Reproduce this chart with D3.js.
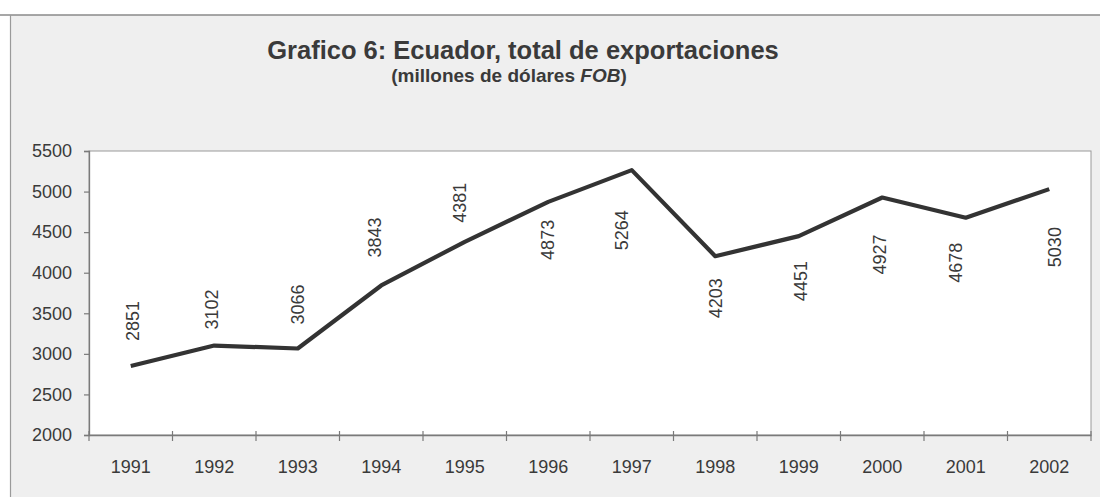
<!DOCTYPE html>
<html>
<head>
<meta charset="utf-8">
<script src="https://cdn.jsdelivr.net/npm/d3@7/dist/d3.min.js"></script>
<style>
  html, body { margin: 0; padding: 0; background: #ffffff; }
  svg { display: block; }
  text { font-family: "Liberation Sans", Arial, sans-serif; }
</style>
</head>
<body>
<svg id="chart" width="1100" height="497"></svg>
<script>
// Ecuador: total exports, millions of US dollars FOB
const years = ["1991", "1992", "1993", "1994", "1995", "1996",
               "1997", "1998", "1999", "2000", "2001", "2002"];
const exportsFOB = [2851, 3102, 3066, 3843, 4381, 4873,
                    5264, 4203, 4451, 4927, 4678, 5030];
const yTicks = [2000, 2500, 3000, 3500, 4000, 4500, 5000, 5500];

const titleText = "Grafico 6: Ecuador, total de exportaciones";
const subtitleMain = "(millones de dólares ";
const subtitleItalic = "FOB";
const subtitleEnd = ")";

// Label placement (pixels, relative to each point)
const labelDy = [-45, -36, -44, -48, -39, 38, 60, 42, 45, 57, 45, 58];
const labelDx = [2, -2, 0, -6, -5, 0, -10, 1, 2, -2, -10, 6];

const W = 1100, H = 497;
const plot = { left: 89, right: 1091, top: 151, bottom: 435 };

const svg = d3.select("#chart");

// Chart area background and frame
svg.append("rect")
  .attr("x", 10).attr("y", 15)
  .attr("width", W - 10).attr("height", H - 15)
  .attr("fill", "#efefef");
svg.append("line")
  .attr("x1", 0).attr("x2", W).attr("y1", 15).attr("y2", 15)
  .attr("stroke", "#8a8a8a").attr("stroke-width", 1.5);
svg.append("line")
  .attr("x1", 10.5).attr("x2", 10.5).attr("y1", 15).attr("y2", H)
  .attr("stroke", "#9a9a9a").attr("stroke-width", 1.2);

// Titles
svg.append("text")
  .attr("x", 523).attr("y", 59)
  .attr("text-anchor", "middle")
  .attr("font-size", 25.5).attr("font-weight", "bold")
  .attr("fill", "#3a3a3a")
  .text(titleText);

const sub = svg.append("text")
  .attr("x", 509).attr("y", 82)
  .attr("text-anchor", "middle")
  .attr("font-size", 19).attr("font-weight", "bold")
  .attr("fill", "#3a3a3a");
sub.append("tspan").text(subtitleMain);
sub.append("tspan").attr("font-style", "italic").text(subtitleItalic);
sub.append("tspan").text(subtitleEnd);

// Plot area
svg.append("rect")
  .attr("x", plot.left).attr("y", plot.top)
  .attr("width", plot.right - plot.left).attr("height", plot.bottom - plot.top)
  .attr("fill", "#ffffff")
  .attr("stroke", "#9a9a9a").attr("stroke-width", 1);

// Scales
const x = d3.scaleBand().domain(years).range([plot.left, plot.right]).padding(0);
const y = d3.scaleLinear().domain([2000, 5500]).range([plot.bottom, plot.top]);
const cx = d => x(d) + x.bandwidth() / 2;

// Y axis
const yAxis = svg.append("g")
  .attr("transform", `translate(${plot.left},0)`)
  .call(d3.axisLeft(y).tickValues(yTicks).tickSize(5).tickPadding(12).tickFormat(d3.format("d")));
yAxis.select(".domain").attr("stroke", "#7a7a7a").attr("stroke-width", 1.3);
yAxis.selectAll(".tick line").attr("stroke", "#7a7a7a").attr("stroke-width", 1.2);
yAxis.selectAll(".tick text")
  .attr("font-size", 18).attr("fill", "#3a3a3a")
  .style("font-family", "'Liberation Sans', Arial, sans-serif");

// X axis: labels centred in each category, ticks on category boundaries
const xAxis = svg.append("g")
  .attr("transform", `translate(0,${plot.bottom})`)
  .call(d3.axisBottom(x).tickSize(0).tickPadding(0));
xAxis.select(".domain").attr("stroke", "#7a7a7a").attr("stroke-width", 1.3);
xAxis.selectAll(".tick text")
  .attr("y", 38).attr("dy", 0)
  .attr("font-size", 18).attr("fill", "#3a3a3a")
  .style("font-family", "'Liberation Sans', Arial, sans-serif");

const boundaries = years.map(d => x(d)).concat([x(years[years.length - 1]) + x.bandwidth()]);
xAxis.selectAll("line.boundary")
  .data(boundaries)
  .join("line")
  .attr("class", "boundary")
  .attr("x1", d => d).attr("x2", d => d)
  .attr("y1", -4).attr("y2", 6)
  .attr("stroke", "#7a7a7a").attr("stroke-width", 1.2);

// Series line
const line = d3.line()
  .x((d, i) => cx(years[i]))
  .y(d => y(d));

svg.append("path")
  .datum(exportsFOB)
  .attr("d", line)
  .attr("fill", "none")
  .attr("stroke", "#333333")
  .attr("stroke-width", 4.2)
  .attr("stroke-linejoin", "round")
  .attr("stroke-linecap", "butt");

// Value labels, rotated vertically
svg.append("g")
  .selectAll("text")
  .data(exportsFOB)
  .join("text")
  .attr("transform", (d, i) =>
    `translate(${cx(years[i]) + labelDx[i]},${y(d) + labelDy[i]}) rotate(-90)`)
  .attr("text-anchor", "middle")
  .attr("dominant-baseline", "central")
  .attr("font-size", 18)
  .attr("fill", "#3a3a3a")
  .text(d => d);
</script>
</body>
</html>
